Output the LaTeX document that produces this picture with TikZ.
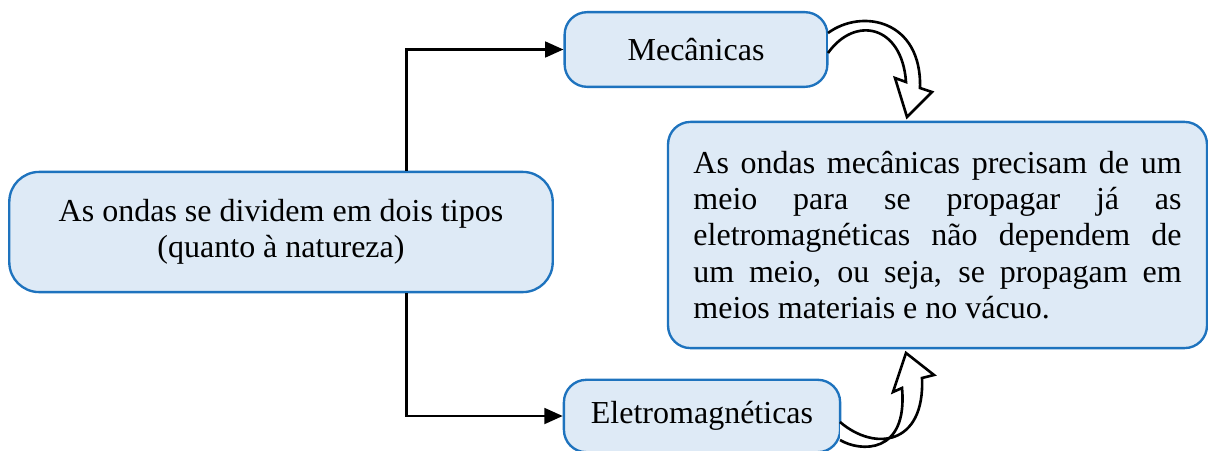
\documentclass[tikz,border=0pt]{standalone}
\usepackage{fontspec}
\setmainfont{Liberation Serif}
\usetikzlibrary{arrows.meta}
\definecolor{boxfill}{RGB}{222,234,246}
\definecolor{boxline}{RGB}{30,115,190}
\begin{document}
\begin{tikzpicture}[x=0.0134cm,y=-0.0134cm,
    caixa/.style={draw=boxline,fill=boxfill,line width=0.9pt,rounded corners=0.3cm,font=\fontsize{12.2}{13.8}\selectfont},
    liga/.style={line width=1pt,-{Triangle[length=7pt,width=6pt]}},
    seta/.style={draw=black,fill=white,line width=1pt,line join=miter}]
      \useasboundingbox (0,0) rectangle (1208,450);
      \node[caixa,rounded corners=0.4cm,minimum width=7.28cm,minimum height=1.61cm,align=center] (tipos) at (281,232) {As ondas se dividem em dois tipos\\(quanto à natureza)};
      \node[caixa,minimum width=3.52cm,minimum height=1.0cm] (mec) at (696,49.5) {Mecânicas};
      \node[caixa,minimum width=3.7cm,minimum height=0.97cm] (eletro) at (702,416) {Eletromagnéticas};
      \node[caixa,minimum width=7.22cm,minimum height=3.03cm,text width=6.54cm,align=justify] (meio) at (937.5,235) {As ondas mecânicas precisam de um\linebreak meio para se propagar já as\linebreak eletromagnéticas não dependem de\linebreak um meio, ou seja, se propagam em\linebreak meios materiais e no vácuo.};
      \draw[liga] ([xshift=1.68cm]tipos.north) |- (mec.west);
      \draw[liga] ([xshift=1.68cm]tipos.south) |- (eletro.west);
      \draw[seta] (828,33) .. controls (862,8) and (922,20) .. (920,88) -- (932,92) -- (907,117) -- (895,78) -- (906,82) .. controls (902,25) and (855,15) .. (828,53);
      \draw[seta] (840,422) .. controls (875,452) and (925,445) .. (922,378) -- (934,375) -- (906,353) -- (893,392) -- (902,388) .. controls (908,455) and (860,452) .. (840,440);
    \end{tikzpicture}
\end{document}
